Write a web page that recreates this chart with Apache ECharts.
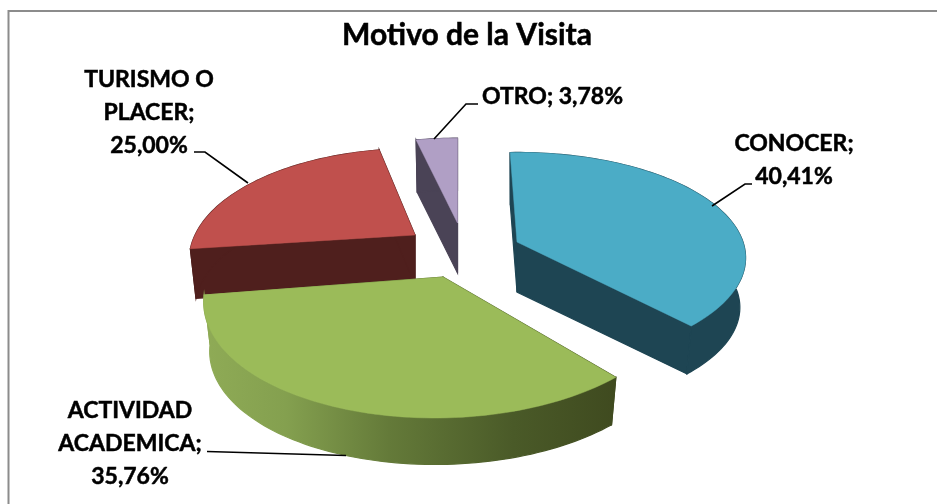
<!DOCTYPE html>
<html><head><meta charset="utf-8">
<style>html,body{margin:0;padding:0;background:#fff}#c{width:937px;height:504px}</style>
<script src="https://cdn.jsdelivr.net/npm/echarts@6/dist/echarts.min.js"></script>
</head><body><div id="c"></div>
<script>
const titleText = 'Motivo de la Visita';
const categories = ['CONOCER', 'ACTIVIDAD ACADEMICA', 'TURISMO O PLACER', 'OTRO'];
const percents = [40.41, 35.76, 25.00, 3.78];
const labelLines = [['CONOCER;', '40,41%'], ['ACTIVIDAD', 'ACADEMICA;', '35,76%'], ['TURISMO O', 'PLACER;', '25,00%'], ['OTRO; 3,78%']];

// drawing layout (exploded 3D pie projection), per slice
const PROJ = { depth: 50, bottomScale: 0.975 };
const sliceLook = [
  { apex: [517, 242], rot: -2, A: 226, B: 103, k: 0.15, shear: 0, top: '#4BACC6', wall: '#1E4553', order: 2 },
  { apex: [443, 277], rot: 0, A: 234, B: 115.6, k: 0.18, shear: -0.06, top: '#9BBB59', wall: 'grad', order: 3 },
  { apex: [415, 235], rot: 1.5, A: 220, B: 106, k: 0.226, shear: 0, top: '#C0504D', wall: '#4F1F1D', order: 1 },
  { apex: [457.5, 223], rot: 0, A: 225, B: 104, k: 0.226, shear: 0, top: '#B09FC5', wall: '#4A4356', order: 0 }
];
const labelPlace = [
  { x: 794, y: 144, lead: [[712, 206], [745, 184], [752, 184]] },
  { x: 130, y: 411, lead: [[346, 455.5], [207, 451.5]] },
  { x: 149, y: 80, lead: [[248, 183], [205, 152], [194, 152]] },
  { x: 552.5, y: 96.5, lead: [[434, 139], [466, 104], [478, 104]] }
];
const LINE_H = 32.7;

const total = percents.reduce((a, b) => a + b, 0);
const starts = []; let acc = 0;
percents.forEach(v => { starts.push(acc / total * 360); acc += v; });

function offset(th, L) {
  const t = (th + L.rot) * Math.PI / 180;
  const c = Math.cos(t), s = Math.sin(t), w = 1 + L.k * c;
  const y = -L.B * c / w;
  return [L.A * s / w + L.shear * y, y];
}

const renderItem = function (params, api) {
  const i = params.dataIndex, L = sliceLook[i];
  const sweep = api.value(1) / total * 360, a0 = starts[i];
  const rim = [];
  const n = Math.max(4, Math.ceil(sweep / 1.5));
  for (let j = 0; j <= n; j++) rim.push(offset(a0 + sweep * j / n, L));
  const T = o => [L.apex[0] + o[0], L.apex[1] + o[1]];
  const B = o => [L.apex[0] + o[0] * PROJ.bottomScale, L.apex[1] + PROJ.depth + o[1] * PROJ.bottomScale];
  const wallFill = L.wall === 'grad'
    ? new echarts.graphic.LinearGradient(203, 0, 617, 0, [
        { offset: 0, color: '#8FAB56' }, { offset: 0.2, color: '#84A04F' },
        { offset: 0.45, color: '#647A39' }, { offset: 0.75, color: '#4A5A28' },
        { offset: 1, color: '#3F4A1F' }], true)
    : L.wall;
  const wall = pts => ({
    type: 'polygon', z2: L.order * 10, shape: { points: pts },
    style: { fill: wallFill, stroke: wallFill, lineWidth: 1.2 }, silent: true
  });
  const O = [0, 0], first = rim[0], last = rim[rim.length - 1];
  const children = [
    wall([T(O), T(first), B(first), B(O)]),
    wall([T(O), T(last), B(last), B(O)]),
    wall(rim.map(T).concat(rim.slice().reverse().map(B)))
  ];
  children.push({
    type: 'polygon', z2: L.order * 10 + 1,
    shape: { points: [T(O)].concat(rim.map(T)) },
    style: { fill: L.top, stroke: L.top, lineWidth: 0.5 }, silent: true
  });
  const P = labelPlace[i];
  children.push({
    type: 'polyline', z2: 100, shape: { points: P.lead },
    style: { fill: 'none', stroke: '#000', lineWidth: 1.6 }, silent: true
  });
  labelLines[i].forEach((t, li) => children.push({
    type: 'text', z2: 100, x: P.x, y: P.y + li * LINE_H,
    style: { text: t, align: 'center', verticalAlign: 'middle', fill: '#000',
      stroke: '#000', lineWidth: 0.5, font: 'bold 23px Lato' }, silent: true
  }));
  return { type: 'group', children };
};

const chart = echarts.init(document.getElementById('c'), null, { renderer: 'canvas' });
chart.setOption({
  animation: false,
  backgroundColor: '#fff',
  title: { text: titleText, left: 467, top: 15, textAlign: 'center', textVerticalAlign: 'top',
    textStyle: { fontFamily: 'Lato', fontWeight: 'bold', fontSize: 30, color: '#000',
      textBorderColor: '#000', textBorderWidth: 0.5 }, padding: [5, 10, 5, 0] },
  graphic: [{ type: 'rect', shape: { x: 8.5, y: 11, width: 1200, height: 1000 }, z: -1,
    style: { fill: 'none', stroke: '#8C8C8C', lineWidth: 2 } }],
  series: [{
    type: 'custom', coordinateSystem: 'none', renderItem,
    data: categories.map((c, i) => ({ name: c, value: [i, percents[i]] }))
  }]
});
</script></body></html>
